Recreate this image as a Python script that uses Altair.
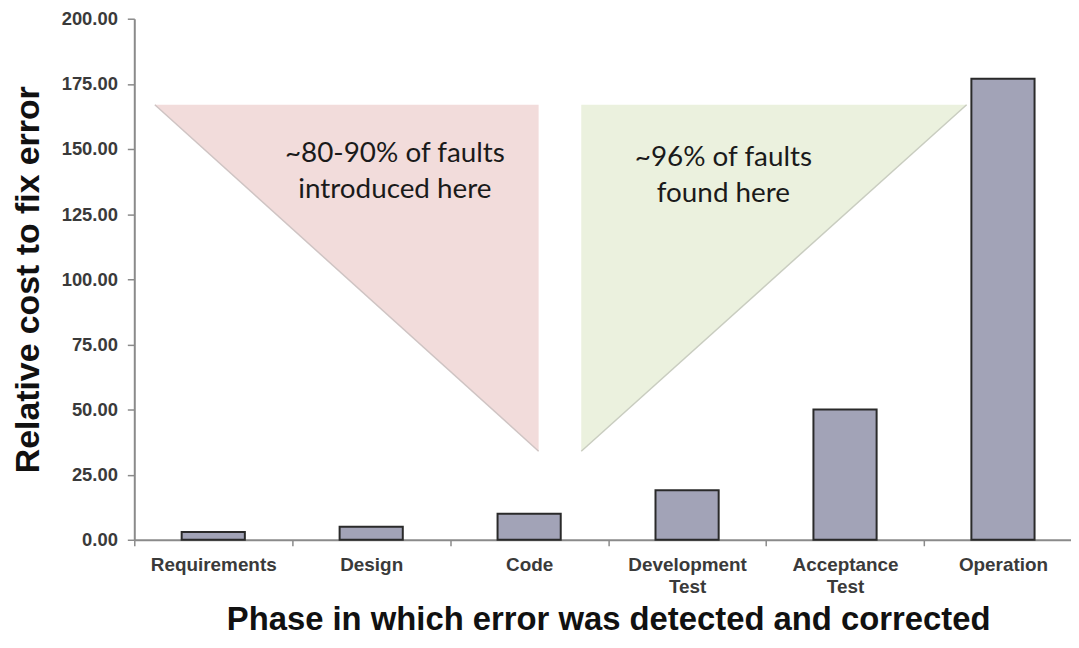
import altair as alt
import pandas as pd

# ---- data ----
phases = ["Requirements", "Design", "Code", "Development Test", "Acceptance Test", "Operation"]
costs = [3, 5, 10, 19, 50, 177]
y_ticks = [0, 25, 50, 75, 100, 125, 150, 175, 200]

# annotation triangles (x in category-step units, y in axis units)
pink_x = [0.13, 2.56]
pink_low = [167, 34]
pink_high = [167, 167]
green_x = [2.83, 5.27]
green_low = [34, 167]
green_high = [167, 167]

pink_lines = ["~80-90% of faults", "introduced here"]
pink_line_x = [1.65, 1.65]
pink_line_y = [145, 131]
green_lines = ["~96% of faults", "found here"]
green_line_x = [3.73, 3.73]
green_line_y = [143.5, 129.8]

FONT = "Liberation Sans"
TXT_FONT = "Lato"
Y_TITLE = "Relative cost to fix error"

yscale = alt.Scale(domain=[0, 200], nice=False, zero=True)
xq = alt.X("x:Q", scale=alt.Scale(domain=[0, 6], nice=False, zero=False), axis=None)

def ycost(field):
    return alt.Y(field, type="quantitative", scale=yscale, title=Y_TITLE,
                 axis=alt.Axis(values=y_ticks, format=".2f"))

pink_df = pd.DataFrame({"x": pink_x, "cost": pink_low, "cost2": pink_high})
green_df = pd.DataFrame({"x": green_x, "cost": green_low, "cost2": green_high})

pink = alt.Chart(pink_df).mark_area(color="#F2DCDB", opacity=1).encode(
    x=xq, y=ycost("cost"), y2="cost2")
green = alt.Chart(green_df).mark_area(color="#EBF1DE", opacity=1).encode(
    x=xq, y=ycost("cost"), y2="cost2")
pink_edge = alt.Chart(pink_df).mark_line(color="#cfc4c3", strokeWidth=1.5).encode(
    x=xq, y=ycost("cost"))
green_edge = alt.Chart(green_df).mark_line(color="#c9cdc0", strokeWidth=1.5).encode(
    x=xq, y=ycost("cost"))

pink_txt = alt.Chart(pd.DataFrame({"x": pink_line_x, "cost": pink_line_y, "t": pink_lines})).mark_text(
    font=TXT_FONT, fontSize=28, color="#1a1a1a", align="center", baseline="alphabetic").encode(
    x=xq, y=ycost("cost"), text="t:N")
green_txt = alt.Chart(pd.DataFrame({"x": green_line_x, "cost": green_line_y, "t": green_lines})).mark_text(
    font=TXT_FONT, fontSize=28, color="#1a1a1a", align="center", baseline="alphabetic").encode(
    x=xq, y=ycost("cost"), text="t:N")

annotations = alt.layer(pink, green, pink_edge, green_edge, pink_txt, green_txt)

bars = alt.Chart(pd.DataFrame({"phase": phases, "cost": costs})).mark_bar(
    width=alt.RelativeBandSize(0.4), color="#A2A3B7", stroke="#2a2a2a", strokeWidth=2
).encode(
    x=alt.X("phase:N", sort=phases,
            scale=alt.Scale(paddingInner=0, paddingOuter=0),
            axis=alt.Axis(title="Phase in which error was detected and corrected",
                          labelAngle=0, tickBand="extent",
                          labelExpr="split(datum.label, ' ')")),
    y=ycost("cost"),
)

chart = alt.layer(annotations, bars).resolve_scale(x="independent").properties(
    width=953, height=524, padding={"left": 3, "top": 0, "right": -12, "bottom": 0}
).configure_view(stroke=None).configure_axis(
    domainColor="#8a8a8a", domainWidth=2, tickColor="#8a8a8a", tickWidth=1.5,
    grid=False, labelFont=FONT, labelFontWeight="bold", labelColor="#3a3a3a",
    titleFont=FONT, titleFontWeight="bold", titleColor="#111111",
).configure_axisY(
    tickSize=7, labelPadding=10, labelFontSize=18.5, titleFontSize=34, titlePadding=16,
).configure_axisX(
    tickSize=6, labelPadding=10, labelFontSize=19, labelLineHeight=22,
    titleFontSize=33, titlePadding=7,
)

chart.save("out.html", embed_options={"renderer": "svg", "actions": False})
